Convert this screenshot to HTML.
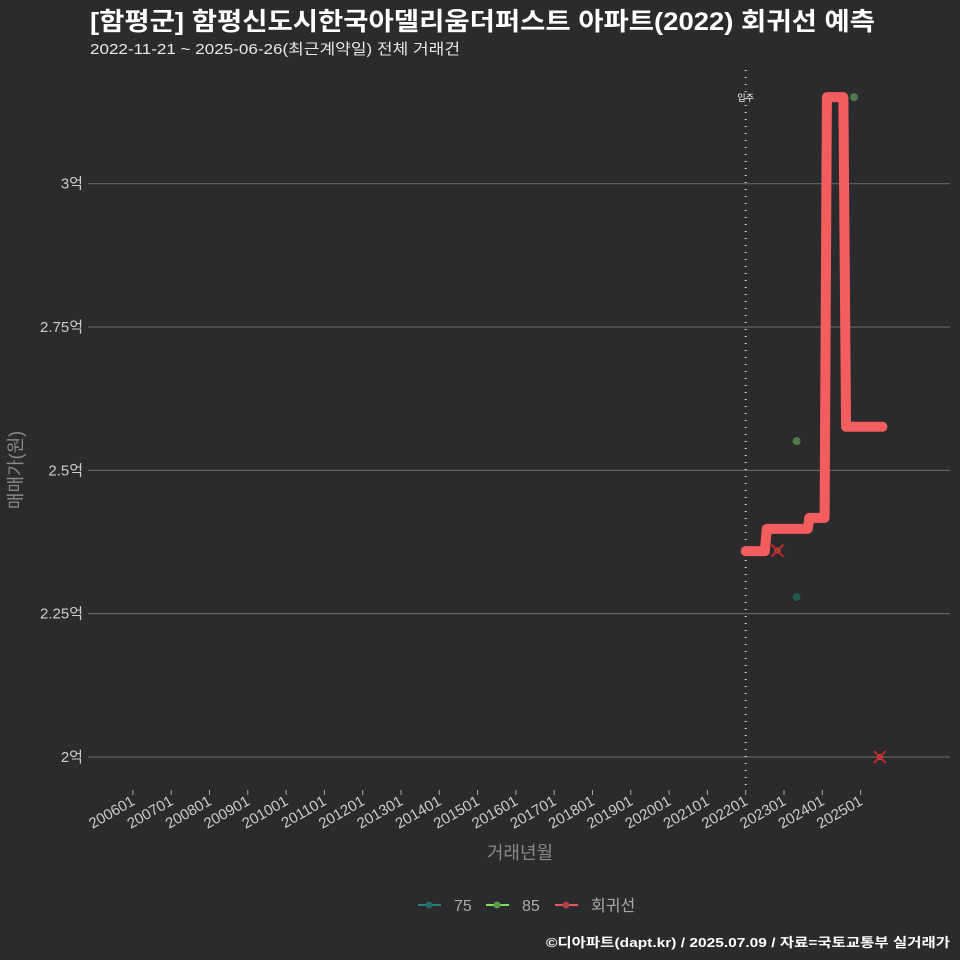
<!DOCTYPE html>
<html><head><meta charset="utf-8"><style>
body{margin:0;background:#2b2a2c;}
svg{display:block;font-family:"Liberation Sans","Noto Sans CJK KR",sans-serif;}
</style></head><body>
<svg id="c" width="960" height="960">
<rect width="960" height="960" fill="#2b2a2c"/>
<text x="90" y="30" font-size="25" font-weight="bold" fill="#fff" textLength="785" lengthAdjust="spacingAndGlyphs">[함평군] 함평신도시한국아델리움더퍼스트 아파트(2022) 회귀선 예측</text>
<text x="90" y="54" font-size="15" fill="#e8e8e8" textLength="370" lengthAdjust="spacingAndGlyphs">2022-11-21 ~ 2025-06-26(최근계약일) 전체 거래건</text>
<text x="22" y="470" font-size="18" fill="#888" transform="rotate(-90 22 470)" text-anchor="middle">매매가(원)</text>
<text x="520" y="859" font-size="18" fill="#888" text-anchor="middle">거래년월</text>
<g>
<g><line x1="418" y1="905" x2="441" y2="905" stroke="#2a7f86" stroke-width="2"/><circle cx="429" cy="905" r="3.5" fill="#2a6a66"/><text x="454" y="911" font-size="16" fill="#aaa">75</text></g>
<g><line x1="486" y1="905" x2="509" y2="905" stroke="#7fe060" stroke-width="2"/><circle cx="497" cy="905" r="3.5" fill="#5a9a4a"/><text x="522" y="911" font-size="16" fill="#aaa">85</text></g>
<g><line x1="555" y1="905" x2="578" y2="905" stroke="#e8555a" stroke-width="2"/><circle cx="566" cy="905" r="3.5" fill="#b04048"/><text x="591" y="911" font-size="16" fill="#aaa">회귀선</text></g>
</g>
<text x="546" y="947" font-size="13" font-weight="bold" fill="#fff" textLength="404" lengthAdjust="spacingAndGlyphs">©디아파트(dapt.kr) / 2025.07.09 / 자료=국토교통부 실거래가</text>
<g id="plot"></g>
</svg>
<script>
const yTicks=[2,2.25,2.5,2.75,3];
const yTickLabels=["2억","2.25억","2.5억","2.75억","3억"];
const xTickLabels=["200601","200701","200801","200901","201001","201101","201201","201301","201401","201501","201601","201701","201801","201901","202001","202101","202201","202301","202401","202501"];
const lineMonths=[2022.0,2022.5,2022.55,2023.62,2023.66,2024.06,2024.12,2024.55,2024.62,2025.57];
const lineValues=[2.359,2.359,2.398,2.398,2.417,2.417,3.151,3.151,2.576,2.576];
const s75Dates=[2023.33];
const s75Values=[2.279];
const s85Dates=[2023.33,2024.83];
const s85Values=[2.551,3.151];
const xMarkDates=[2022.83,2025.5];
const xMarkValues=[2.36,2.0];
const moveInDate=2022.0;
const NS="http://www.w3.org/2000/svg";
const g=document.getElementById('plot');
function X(t){return 132.9+(t-2006)*38.3;}
function Y(v){return 757-(v-2)*573.3;}
function mk(tag,a,p){const e=document.createElementNS(NS,tag);for(const k in a)e.setAttribute(k,a[k]);(p||g).appendChild(e);return e;}
yTicks.forEach((v,i)=>{
 const l=mk('line',{x1:88,x2:950,y1:Y(v),y2:Y(v),stroke:'#6e6e6e','stroke-width':1});
 
 
 const t=mk('text',{x:83,y:Y(v)+5,'font-size':15,fill:'#ccc','text-anchor':'end'});
 t.textContent=yTickLabels[i];
 
 
});
xTickLabels.forEach((s,i)=>{
 const x=X(2006+i);
 const tk=mk('line',{x1:x,x2:x,y1:790,y2:795,stroke:'#aaa'});
 
 
 const t=mk('text',{x:x+3,y:804,'font-size':15,fill:'#ccc','text-anchor':'end',transform:`rotate(-30 ${x+3} 804)`});
 t.textContent=s;
 
 
});
const vl=mk('line',{x1:X(moveInDate),x2:X(moveInDate),y1:70,y2:790,stroke:'#ddd','stroke-width':2,'stroke-dasharray':'1 6'});


const mt=mk('text',{x:X(moveInDate),y:101,'font-size':9,fill:'#fff','text-anchor':'middle'});
mt.textContent='입주';


const pts=lineMonths.map((t,i)=>X(t)+','+Y(lineValues[i])).join(' ');
const pl=mk('polyline',{points:pts,fill:'none',stroke:'#f45d5e','stroke-width':10,'stroke-linejoin':'round','stroke-linecap':'round'});


s75Dates.forEach((t,i)=>{
 const c=mk('circle',{cx:X(t),cy:Y(s75Values[i]),r:4,fill:'#235a4c'});
 
 
});
s85Dates.forEach((t,i)=>{
 const c=mk('circle',{cx:X(t),cy:Y(s85Values[i]),r:4,fill:'#4e7a4c'});
 
 
});
xMarkDates.forEach((t,i)=>{
 const x=X(t),y=Y(xMarkValues[i]);
 const c=mk('circle',{cx:x,cy:y,r:3,fill:'#b07050'});
 
 
 const p=mk('path',{d:`M${x-6},${y-6}L${x+6},${y+6}M${x+6},${y-6}L${x-6},${y+6}`,stroke:'#c0262a','stroke-width':2});
 
 
});
</script>
</body></html>
